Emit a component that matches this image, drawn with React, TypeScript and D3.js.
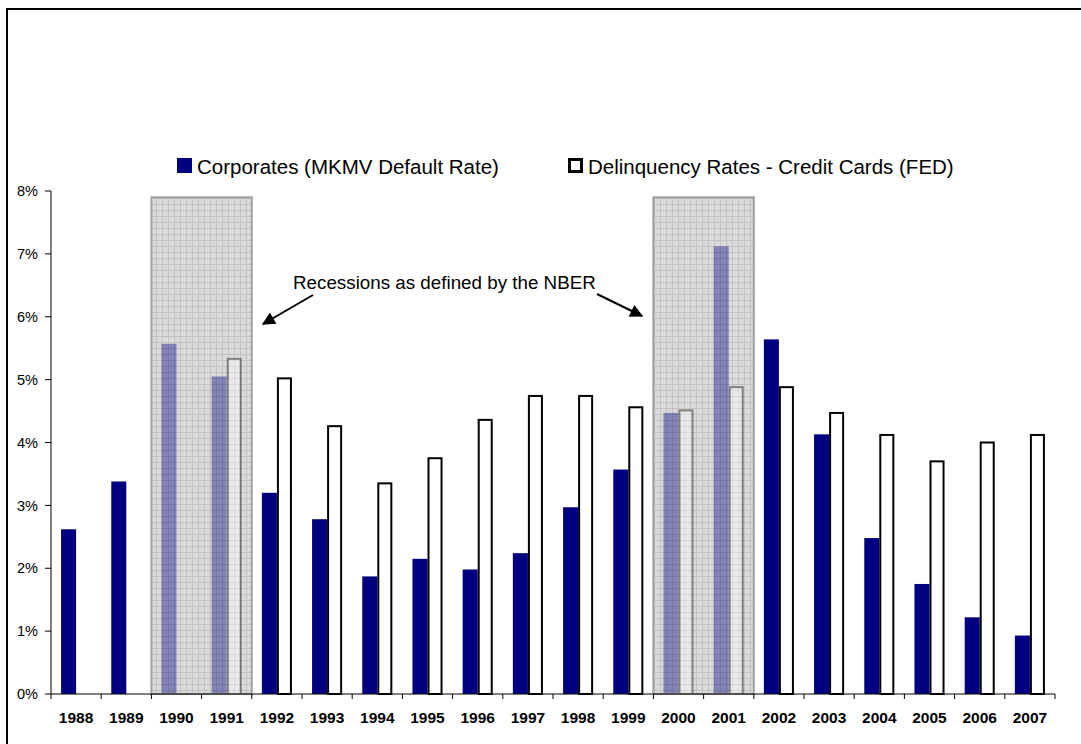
import React from 'react';
import * as d3 from 'd3';

const years = ['1988', '1989', '1990', '1991', '1992', '1993', '1994', '1995', '1996', '1997',
  '1998', '1999', '2000', '2001', '2002', '2003', '2004', '2005', '2006', '2007'];
const corporates = [2.62, 3.38, 5.57, 5.05, 3.2, 2.78, 1.87, 2.15, 1.98, 2.24,
  2.97, 3.57, 4.47, 7.12, 5.64, 4.13, 2.48, 1.75, 1.22, 0.93];
const delinquency: (number | null)[] = [null, null, null, 5.33, 5.02, 4.26, 3.35, 3.75, 4.36, 4.74,
  4.74, 4.56, 4.51, 4.88, 4.88, 4.47, 4.12, 3.7, 4.0, 4.12];
const yTicks = [0, 1, 2, 3, 4, 5, 6, 7, 8];
const recessions = [['1990', '1991'], ['2000', '2001']];
const recessionTop = 7.9;
const seriesNames = ['Corporates (MKMV Default Rate)', 'Delinquency Rates - Credit Cards (FED)'];
const note = 'Recessions as defined by the NBER';

const W = 1081;
const H = 744;
const font = '"Liberation Sans", Arial, sans-serif';

export default function App() {
  const x = d3.scaleBand().domain(years).range([51, 1055]).padding(0);
  const x1 = d3.scaleBand().domain(['c', 'd']).range([0, x.bandwidth()]).paddingInner(0).paddingOuter(0.67);
  const y = d3.scaleLinear().domain([0, 8]).range([694, 191]);
  const bw = x1.bandwidth();

  return (
    <svg width={W} height={H} style={{ position: 'absolute', left: 0, top: 0, background: '#fff' }}>
      <defs>
        <pattern id="grid" width="6" height="6" patternUnits="userSpaceOnUse">
          <rect width="6" height="6" fill="#dadada" />
          <path d="M0 0.5H6M0.5 0V6" stroke="#c2c2c2" strokeWidth="1" />
        </pattern>
        <marker id="arr" viewBox="0 0 10 10" refX="9" refY="5" markerWidth="8" markerHeight="6.5" orient="auto" markerUnits="strokeWidth">
          <path d="M0 0L10 5L0 10z" fill="#000" />
        </marker>
      </defs>
      {/* frame, only left and top show */}
      <rect x={7} y={9} width={1200} height={900} fill="none" stroke="#000" strokeWidth={2} />

      {/* legend */}
      <rect x={177} y={158} width={15} height={15} fill="#000080" />
      <text x={197} y={174} fontFamily={font} fontSize={20.5}>{seriesNames[0]}</text>
      <rect x={569.5} y={159.5} width={12} height={12} fill="#fff" stroke="#000" strokeWidth={3} />
      <text x={588} y={174} fontFamily={font} fontSize={20.5}>{seriesNames[1]}</text>

      {/* recession background */}
      {recessions.map(([a, b]) => (
        <rect key={'bg' + a} x={x(a)} y={y(recessionTop)} width={x(b)! + x.bandwidth() - x(a)!}
          height={y(0) - y(recessionTop)} fill="url(#grid)" />
      ))}

      {/* bars */}
      {years.map((yr, i) => (
        <g key={yr}>
          <rect x={x(yr)! + x1('c')!} y={y(corporates[i])} width={bw} height={y(0) - y(corporates[i])} fill="#000080" />
          {delinquency[i] != null && (
            <rect x={x(yr)! + x1('d')! + 1} y={y(delinquency[i]!)} width={bw - 2}
              height={y(0) - y(delinquency[i]!)} fill="#fff" stroke="#000" strokeWidth={2} />
          )}
        </g>
      ))}

      {/* recession overlay */}
      {recessions.map(([a, b]) => (
        <g key={'ov' + a}>
          <rect x={x(a)} y={y(recessionTop)} width={x(b)! + x.bandwidth() - x(a)!}
            height={y(0) - y(recessionTop)} fill="url(#grid)" opacity={0.6} />
          <rect x={x(a)} y={y(recessionTop)} width={x(b)! + x.bandwidth() - x(a)!}
            height={y(0) - y(recessionTop)} fill="none" stroke="#a0a0a0" strokeWidth={2} />
        </g>
      ))}

      {/* y axis */}
      <line x1={51} x2={51} y1={y(8)} y2={y(0)} stroke="#000" strokeWidth={1} />
      {yTicks.map(t => (
        <g key={t}>
          <line x1={45} x2={51} y1={y(t)} y2={y(t)} stroke="#000" />
          <text x={38} y={y(t)} dy="0.36em" textAnchor="end" fontFamily={font} fontSize={14.5}>{t}%</text>
        </g>
      ))}

      {/* x axis */}
      <line x1={51} x2={1055} y1={y(0)} y2={y(0)} stroke="#000" strokeWidth={1} />
      {years.map(yr => (
        <line key={'t' + yr} x1={x(yr)} x2={x(yr)} y1={y(0)} y2={y(0) + 5} stroke="#000" />
      ))}
      <line x1={1055} x2={1055} y1={y(0)} y2={y(0) + 5} stroke="#000" />
      {years.map(yr => (
        <text key={'l' + yr} x={x(yr)! + x.bandwidth() / 2} y={723} textAnchor="middle"
          fontFamily={font} fontSize={15.5} fontWeight="bold">{yr}</text>
      ))}

      {/* annotation */}
      <text x={293} y={289} fontFamily={font} fontSize={18.8}>{note}</text>
      <line x1={313} y1={295} x2={263} y2={324} stroke="#000" strokeWidth={2} markerEnd="url(#arr)" />
      <line x1={597} y1={294} x2={642} y2={316} stroke="#000" strokeWidth={2} markerEnd="url(#arr)" />
    </svg>
  );
}
